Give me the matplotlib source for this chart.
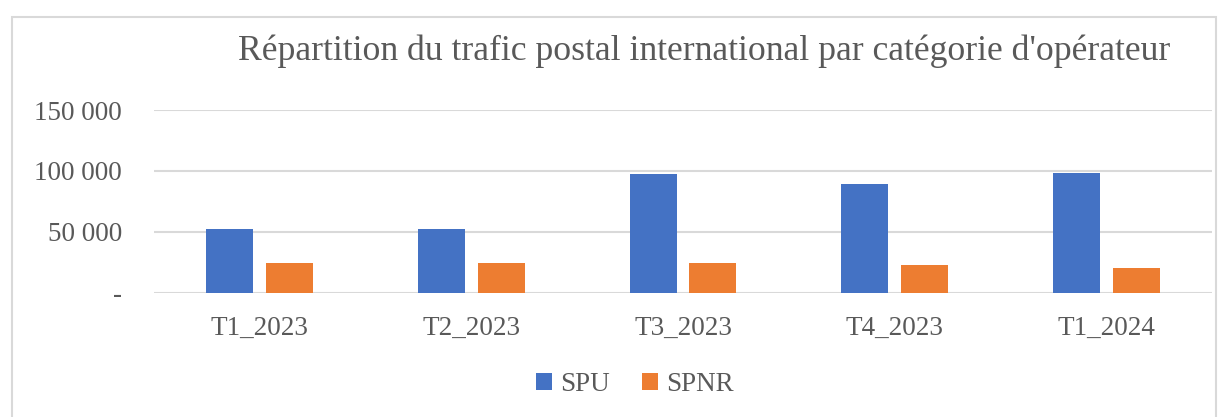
import numpy as np
import matplotlib.pyplot as plt
from matplotlib.patches import Rectangle
from matplotlib.ticker import FuncFormatter

# Trafic postal international par catégorie d'opérateur
categories = ['T1_2023', 'T2_2023', 'T3_2023', 'T4_2023', 'T1_2024']
spu = [52700, 52500, 97500, 89300, 98000]
spnr = [24200, 24200, 24200, 22600, 20600]

blue = '#4472C4'
orange = '#ED7D31'
text_col = '#595959'
grid_col = '#D9D9D9'

plt.rcParams['font.family'] = ['Liberation Serif', 'DejaVu Serif']

fig = plt.figure(figsize=(12.28, 4.17), dpi=100)
ax = fig.add_axes([0.1254, 0.298, 0.8616, 0.4382])

# chart frame
fig.patches.append(Rectangle((12 / 1228, -0.05), 1204 / 1228, 1 - 17 / 417 + 0.05,
                             transform=fig.transFigure, fill=False,
                             edgecolor=grid_col, linewidth=1.5))

x = np.arange(len(categories))
w = 0.222
off = 0.1415
ax.bar(x - off, spu, w, color=blue, label='SPU', zorder=3)
ax.bar(x + off, spnr, w, color=orange, label='SPNR', zorder=3)

ax.set_xlim(-0.5, len(categories) - 0.5)
ax.set_ylim(0, 150000)
ax.set_yticks([0, 50000, 100000, 150000])
ax.yaxis.set_major_formatter(FuncFormatter(
    lambda v, p: '-' if v == 0 else f'{int(v):,}'.replace(',', ' ')))
ax.set_xticks(x)
ax.set_xticklabels(categories)

ax.grid(axis='y', color=grid_col, linewidth=1.5, zorder=0)
for s in ax.spines.values():
    s.set_visible(False)
ax.tick_params(axis='both', length=0, labelsize=19.5, colors=text_col)
ax.tick_params(axis='y', pad=23)
ax.tick_params(axis='x', pad=17)

fig.text(0.5737, 0.878, "Répartition du trafic postal international par catégorie d'opérateur",
         ha='center', va='center', fontsize=25.7, color=text_col)

leg = fig.legend(loc='center', bbox_to_anchor=(0.517, 0.078), ncol=2, frameon=False,
                 fontsize=19.5, handlelength=0.6, handleheight=0.6, handletextpad=0.3,
                 columnspacing=1.2)
for t in leg.get_texts():
    t.set_color(text_col)

fig.savefig('out.png', dpi=100)
